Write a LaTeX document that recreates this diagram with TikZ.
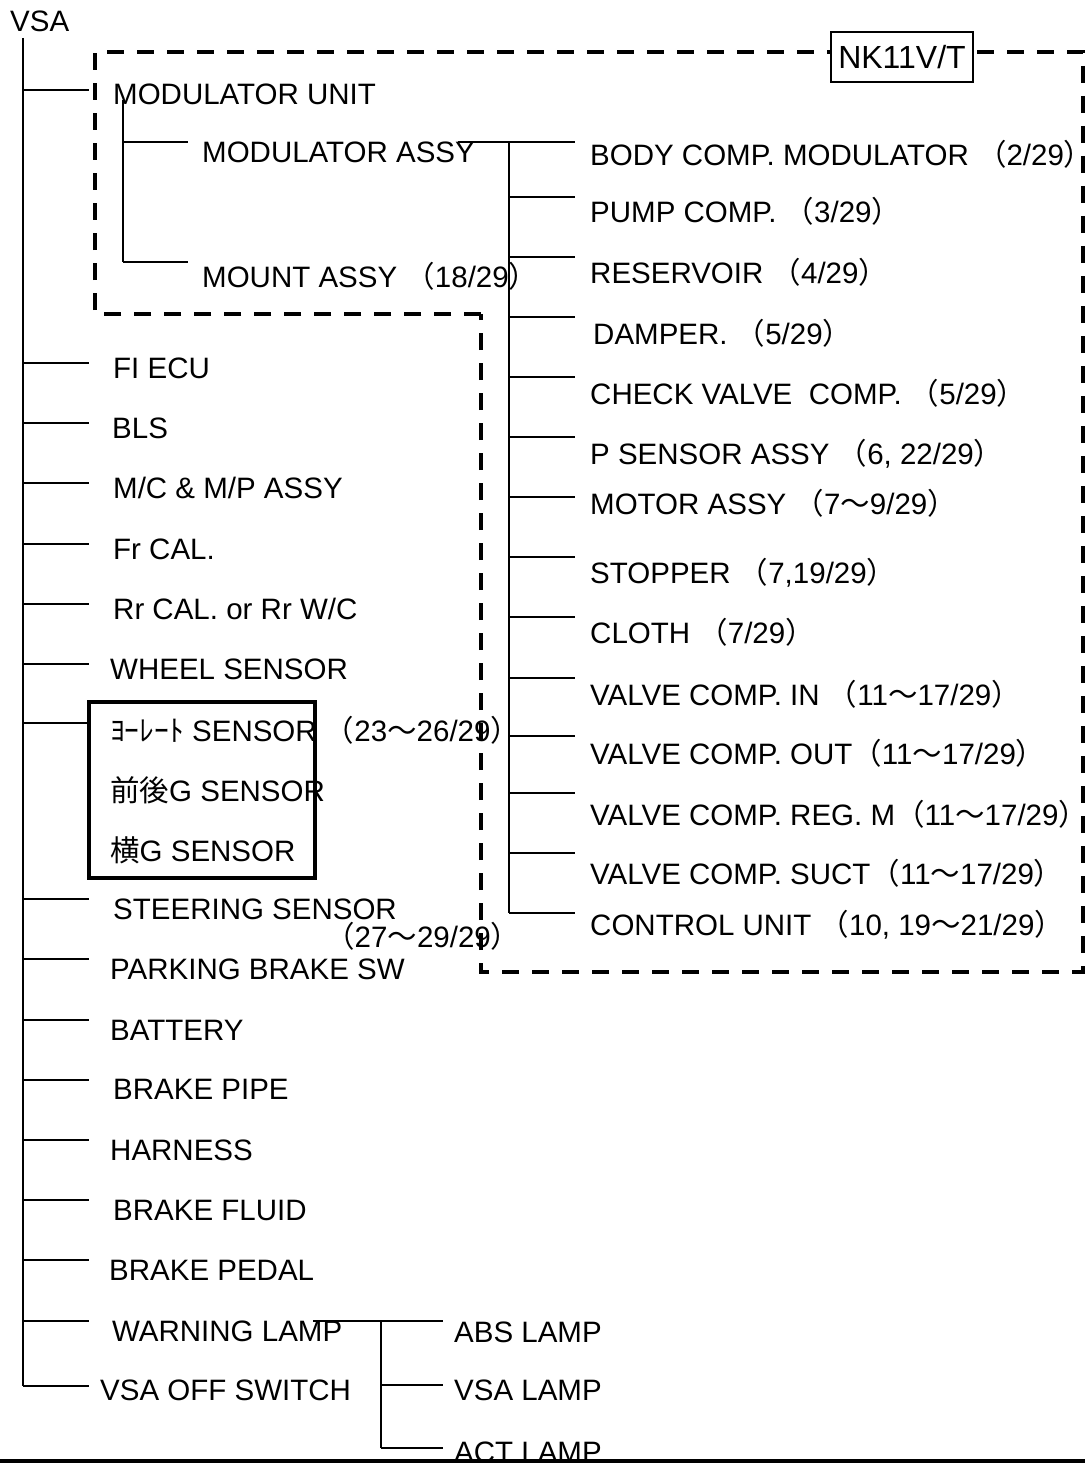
\documentclass[tikz,border=0pt]{standalone}
\usepackage{fontspec}
\setmainfont{Liberation Sans}
\newfontfamily\jp{Noto Sans CJK JP}
\newcommand\LP{{\jp （}}
\newcommand\RP{{\jp\makebox[0.5em][l]{）}}}
\newcommand\Tl{{\jp ～}}
\newcommand\LeftItem[5]{%
  \coordinate (#1-a) at (23,#2);
  \coordinate (#1-b) at (89,#2);
  \draw[ln] (#1-a) -- (#1-b);
  \node[lbl] (#1) at (#3,#4) {#5};}
\newcommand\RightItem[5]{%
  \coordinate (#1-a) at (509,#2);
  \coordinate (#1-b) at (575,#2);
  \draw[ln] (#1-a) -- (#1-b);
  \node[lbl] (#1) at (#3,#4) {#5};}
\begin{document}
\begin{tikzpicture}[x=1pt,y=-1pt,
  lbl/.style={anchor=base west, inner sep=0pt, font=\fontsize{29.5}{34}\selectfont},
  ln/.style={line width=2.2pt},
  dbox/.style={line width=3.8pt, dash pattern=on 17pt off 13pt},
  tbox/.style={draw, line width=4.2pt, inner sep=0pt},
  nkbox/.style={draw, line width=1.6pt, fill=white, inner sep=0pt, font=\fontsize{32}{36}\selectfont}]
\useasboundingbox (0,0) rectangle (1085,1463);
% dashed region
\coordinate (d1) at (481,314);
\coordinate (d2) at (95,314);
\coordinate (d3) at (95,52);
\coordinate (d4) at (1083,52);
\coordinate (d5) at (1083,972);
\coordinate (d6) at (481,972);
\draw[dbox] (d1) -- (d2) -- (d3) -- (d4) -- (d5) -- (d6) -- cycle;
\node[nkbox, minimum width=142pt, minimum height=50pt] (nk) at (902,57) {NK11V/T};
% root
\node[lbl] (vsa) at (10,32) {VSA};
\coordinate (bus-top) at (23,38);
\coordinate (bus-bot) at (23,1386);
\draw[ln] (bus-top) -- (bus-bot);
% modulator unit
\LeftItem{mu}{90}{113}{105}{MODULATOR UNIT}
\coordinate (mu-top) at (123,100);
\coordinate (mu-bot) at (123,262);
\draw[ln] (mu-top) -- (mu-bot);
\coordinate (ma-a) at (123,142);
\coordinate (ma-b) at (188,142);
\draw[ln] (ma-a) -- (ma-b);
\coordinate (mt-a) at (123,262);
\coordinate (mt-b) at (188,262);
\draw[ln] (mt-a) -- (mt-b);
\node[lbl] (ma) at (202,163) {MODULATOR ASSY};
\node[lbl] (mt) at (202,287) {MOUNT ASSY \LP18/29\RP};
% link modulator assy to right bus
\coordinate (rb-l) at (458,142);
\coordinate (rb-top) at (509,142);
\coordinate (rb-bot) at (509,913);
\coordinate (rb-r) at (575,142);
\draw[ln] (rb-l) -- (rb-r);
\draw[ln] (rb-top) -- (rb-bot);
% right group
\node[lbl] (body) at (590,166) {BODY COMP. MODULATOR \LP2/29\RP};
\RightItem{pump}{197}{590}{223}{PUMP COMP. \LP3/29\RP}
\RightItem{res}{257}{590}{283}{RESERVOIR \LP4/29\RP}
\RightItem{damp}{317}{593}{344}{DAMPER. \LP5/29\RP}
\RightItem{chk}{377}{590}{404}{CHECK VALVE\ \ COMP. \LP5/29\RP}
\RightItem{psen}{437}{590}{464}{P SENSOR ASSY \LP6, 22/29\RP}
\RightItem{mot}{497}{590}{514}{MOTOR ASSY \LP7\Tl9/29\RP}
\RightItem{stop}{557}{590}{583}{STOPPER \LP7,19/29\RP}
\RightItem{cloth}{617}{590}{643}{CLOTH \LP7/29\RP}
\RightItem{vin}{678}{590}{705}{VALVE COMP. IN \LP11\Tl17/29\RP}
\RightItem{vout}{736}{590}{764}{VALVE COMP. OUT\LP11\Tl17/29\RP}
\RightItem{vreg}{793}{590}{825}{VALVE COMP. REG. M\LP11\Tl17/29\RP}
\RightItem{vsuct}{853}{590}{884}{VALVE COMP. SUCT\LP11\Tl17/29\RP}
\RightItem{ctrl}{913}{590}{935}{CONTROL UNIT \LP10, 19\Tl21/29\RP}
% left group
\LeftItem{fi}{363}{113}{378}{FI ECU}
\LeftItem{bls}{423}{112}{438}{BLS}
\LeftItem{mc}{483}{113}{498}{M/C \& M/P ASSY}
\LeftItem{fr}{544}{113}{559}{Fr CAL.}
\LeftItem{rr}{604}{113}{619}{Rr CAL. or Rr W/C}
\LeftItem{wh}{664}{110}{679}{WHEEL SENSOR}
% sensor box
\node[tbox, minimum width=226pt, minimum height=176pt] (sbox) at (202,790) {};
\coordinate (yaw-a) at (23,723);
\draw[ln] (yaw-a) -- (sbox.west |- yaw-a);
\node[lbl] (yaw) at (110,741) {{\jp ﾖｰﾚｰﾄ} SENSOR \LP23\Tl26/29\RP};
\node[lbl] (fg) at (110,801) {{\jp 前後}G SENSOR};
\node[lbl] (lg) at (110,861) {{\jp 横}G SENSOR};
\LeftItem{st}{899}{113}{919}{STEERING SENSOR}
\node[lbl] (stp) at (325,947) {\LP27\Tl29/29\RP};
\LeftItem{pk}{959}{110}{979}{PARKING BRAKE SW}
\LeftItem{bat}{1020}{110}{1040}{BATTERY}
\LeftItem{pipe}{1080}{113}{1099}{BRAKE PIPE}
\LeftItem{har}{1140}{110}{1160}{HARNESS}
\LeftItem{fl}{1200}{113}{1220}{BRAKE FLUID}
\LeftItem{ped}{1260}{109}{1280}{BRAKE PEDAL}
\LeftItem{wl}{1321}{112}{1341}{WARNING LAMP}
\LeftItem{voff}{1386}{100}{1400}{VSA OFF SWITCH}
% lamps
\coordinate (lamp-l) at (313,1321);
\coordinate (lamp-r) at (443,1321);
\coordinate (lamp-top) at (381,1321);
\coordinate (lamp-bot) at (381,1448);
\draw[ln] (lamp-l) -- (lamp-r);
\draw[ln] (lamp-top) -- (lamp-bot);
\coordinate (vl-a) at (381,1385);
\coordinate (vl-b) at (443,1385);
\draw[ln] (vl-a) -- (vl-b);
\coordinate (al-b) at (443,1448);
\draw[ln] (lamp-bot) -- (al-b);
\node[lbl] (abs) at (454,1342) {ABS LAMP};
\node[lbl] (vsal) at (454,1400) {VSA LAMP};
\node[lbl] (act) at (454,1462) {ACT LAMP};
% bottom rule
\coordinate (bl-a) at (0,1461);
\coordinate (bl-b) at (1085,1461);
\draw[line width=4pt] (bl-a) -- (bl-b);
\end{tikzpicture}
\end{document}
